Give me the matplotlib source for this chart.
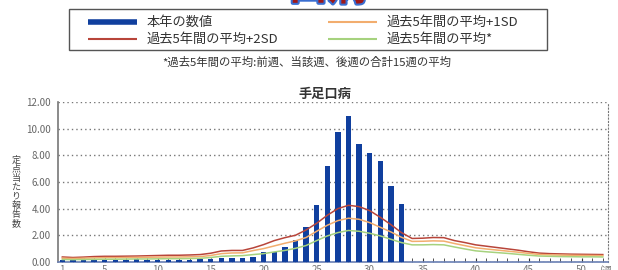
import matplotlib
matplotlib.use('Agg')
import matplotlib.pyplot as plt
import matplotlib.patheffects as pe
from matplotlib.lines import Line2D
from matplotlib.patches import Rectangle

plt.rcParams['font.family'] = ['Noto Sans CJK JP', 'DejaVu Sans']

# weekly data (per sentinel)
weeks = list(range(1, 53))
this_year = [0.17, 0.16, 0.15, 0.17, 0.20, 0.15, 0.17, 0.22, 0.15, 0.16,
             0.14, 0.15, 0.16, 0.20, 0.23, 0.27, 0.30, 0.32, 0.38, 0.74,
             0.72, 1.15, 1.68, 2.60, 4.30, 7.20, 9.75, 10.98, 8.88, 8.18,
             7.60, 5.70, 4.37]
plus2sd = [0.37, 0.33, 0.36, 0.40, 0.42, 0.42, 0.43, 0.44, 0.46, 0.48,
           0.50, 0.50, 0.52, 0.55, 0.65, 0.82, 0.86, 0.86, 1.05, 1.30,
           1.60, 1.82, 2.00, 2.40, 2.90, 3.50, 4.00, 4.25, 4.15, 3.85,
           3.35, 2.80, 2.20, 1.76, 1.78, 1.83, 1.82, 1.60, 1.45, 1.28,
           1.18, 1.08, 0.98, 0.88, 0.76, 0.66, 0.62, 0.60, 0.58, 0.57,
           0.56, 0.55]
plus1sd = [0.28, 0.26, 0.28, 0.30, 0.32, 0.32, 0.33, 0.34, 0.35, 0.36,
           0.37, 0.37, 0.38, 0.40, 0.48, 0.62, 0.67, 0.68, 0.85, 1.00,
           1.20, 1.40, 1.58, 1.83, 2.30, 2.75, 3.10, 3.28, 3.20, 2.95,
           2.60, 2.25, 1.85, 1.54, 1.55, 1.58, 1.56, 1.38, 1.22, 1.06,
           0.97, 0.89, 0.81, 0.73, 0.64, 0.56, 0.53, 0.51, 0.50, 0.49,
           0.48, 0.47]
mean5y = [0.18, 0.17, 0.18, 0.19, 0.20, 0.20, 0.21, 0.22, 0.22, 0.23,
          0.24, 0.24, 0.25, 0.27, 0.33, 0.42, 0.45, 0.47, 0.55, 0.62,
          0.75, 0.86, 1.02, 1.23, 1.60, 1.95, 2.20, 2.36, 2.30, 2.15,
          1.95, 1.70, 1.45, 1.28, 1.28, 1.30, 1.28, 1.12, 0.97, 0.83,
          0.76, 0.70, 0.64, 0.57, 0.50, 0.44, 0.42, 0.40, 0.39, 0.38,
          0.38, 0.37]

xticks = [1, 5, 10, 15, 20, 25, 30, 35, 40, 45, 50]
yticks = [0, 2, 4, 6, 8, 10, 12]

c_bar = '#103f9e'
c_2sd = '#b8453a'
c_1sd = '#f2ad6e'
c_mean = '#a6d27e'

W, H = 618, 270
fig = plt.figure(figsize=(W / 100, H / 100), dpi=100)
ax = fig.add_axes([0.094, 0.030, 0.890, 0.592])

ax.bar(weeks[:len(this_year)], this_year, width=0.5, color=c_bar, zorder=3)
ax.plot(weeks, plus2sd, color=c_2sd, lw=1.1, zorder=4)
ax.plot(weeks, plus1sd, color=c_1sd, lw=1.1, zorder=4)
ax.plot(weeks, mean5y, color=c_mean, lw=1.1, zorder=4)

ax.set_xlim(0.6, 52.5)
ax.set_ylim(0, 12)
ax.set_yticks(yticks)
ax.set_yticklabels(['%.2f' % v for v in yticks])
ax.set_xticks(xticks)
ax.set_xticks(weeks, minor=True)
ax.tick_params(axis='y', length=0, labelsize=7, labelcolor='#666666', pad=5)
ax.tick_params(axis='x', which='both', direction='in', length=3,
               color='#333333', labelsize=7, labelcolor='#777777', pad=2)
ax.grid(axis='y', color='#777777', linestyle=(0, (1, 2.2)), lw=1, zorder=0)

ax.spines['top'].set_visible(False)
ax.spines['left'].set_color('#777777')
ax.spines['left'].set_linewidth(1.2)
ax.spines['bottom'].set_color('#6a80b4')
ax.spines['bottom'].set_linewidth(1.2)
ax.spines['right'].set_color('#777777')
ax.spines['right'].set_linestyle((0, (1, 2)))

ax.text(52.3, -0.25, '(週', fontsize=7, color='#777777', ha='center', va='top',
        clip_on=False)
ax.set_title('手足口病', fontsize=9.5, fontweight='bold', color='#333333',
             pad=3, x=0.485)

# vertical y label
fig.text(0.026, 0.29, '\n'.join('定点当たり報告数'), fontsize=6.5, color='#444444',
         ha='center', va='center', linespacing=1.0)


# legend drawn in pixel positions of the figure
def px(x, y):
    return x / W, 1 - y / H


fig.add_artist(Rectangle(px(69, 50), 478 / W, 41 / H, transform=fig.transFigure,
                         fill=False, edgecolor='#555555', lw=1.0))
legend_items = [
    ('本年の数値', c_bar, 4.0, 88, 22),
    ('過去5年間の平均+2SD', c_2sd, 1.5, 88, 39),
    ('過去5年間の平均+1SD', c_1sd, 1.5, 328, 22),
    ('過去5年間の平均*', c_mean, 1.5, 328, 39),
]
for label, col, lw, x0, y0 in legend_items:
    xa, ya = px(x0, y0)
    xb, _ = px(x0 + 49, y0)
    fig.add_artist(Line2D([xa, xb], [ya, ya], color=col, lw=lw,
                          transform=fig.transFigure, solid_capstyle='butt'))
    fig.text(xb + 10 / W, ya, label, fontsize=9.5, color='#333333',
             ha='left', va='center')

fig.text(0.497, 0.770, '*過去5年間の平均:前週、当該週、後週の合計15週の平均',
         fontsize=8.2, color='#333333', ha='center', va='center')

# clipped headline remnant at the top edge
fig.text(0.53, 0.97, '口病', fontsize=28, color='#a01818', fontweight='bold',
         ha='center', va='bottom',
         path_effects=[pe.withStroke(linewidth=3, foreground='#3a6ed0')])

fig.savefig('out.png', dpi=100)
